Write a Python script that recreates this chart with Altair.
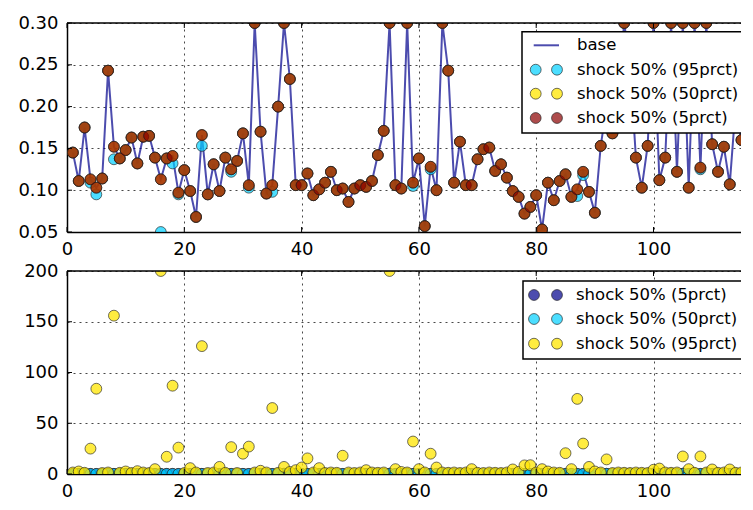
import altair as alt
import pandas as pd

# ---------------- data ----------------
x_idx = list(range(1, 116))

base = [0.145, 0.111, 0.175, 0.113, 0.103, 0.114, 0.243, 0.152, 0.138, 0.148,
        0.163, 0.132, 0.164, 0.165, 0.139, 0.113, 0.138, 0.141, 0.097, 0.124,
        0.099, 0.068, 0.166, 0.095, 0.131, 0.099, 0.139, 0.125, 0.135, 0.168,
        0.106, 0.300, 0.170, 0.096, 0.106, 0.200, 0.300, 0.233, 0.106, 0.106,
        0.120, 0.094, 0.101, 0.109, 0.122, 0.100, 0.102, 0.086, 0.102, 0.106,
        0.104, 0.111, 0.142, 0.171, 0.300, 0.106, 0.102, 0.300, 0.109, 0.138,
        0.057, 0.128, 0.100, 0.300, 0.243, 0.109, 0.158, 0.106, 0.106, 0.137,
        0.149, 0.151, 0.123, 0.131, 0.115, 0.099, 0.092, 0.072, 0.080, 0.094,
        0.053, 0.109, 0.088, 0.111, 0.119, 0.092, 0.101, 0.122, 0.098, 0.073,
        0.153, 0.200, 0.168, 0.220, 0.300, 0.250, 0.139, 0.103, 0.153, 0.300,
        0.112, 0.139, 0.300, 0.122, 0.300, 0.103, 0.300, 0.127, 0.300, 0.155,
        0.122, 0.152, 0.107, 0.200, 0.160]

top_p95 = [0.145, 0.111, 0.175, 0.109, 0.095, 0.114, 0.243, 0.137, 0.138, 0.148,
           0.163, 0.132, 0.164, 0.165, 0.139, 0.050, 0.138, 0.132, 0.095, 0.124,
           0.099, 0.068, 0.153, 0.095, 0.131, 0.099, 0.139, 0.122, 0.135, 0.168,
           0.103, 0.300, 0.170, 0.096, 0.098, 0.200, 0.300, 0.233, 0.106, 0.106,
           0.120, 0.094, 0.101, 0.109, 0.122, 0.100, 0.102, 0.086, 0.102, 0.106,
           0.104, 0.111, 0.142, 0.171, 0.300, 0.106, 0.102, 0.300, 0.105, 0.138,
           0.057, 0.125, 0.100, 0.300, 0.243, 0.109, 0.158, 0.106, 0.106, 0.137,
           0.149, 0.151, 0.123, 0.131, 0.115, 0.099, 0.092, 0.072, 0.080, 0.094,
           0.053, 0.109, 0.088, 0.111, 0.119, 0.092, 0.093, 0.118, 0.098, 0.073,
           0.153, 0.200, 0.168, 0.220, 0.300, 0.250, 0.139, 0.103, 0.153, 0.300,
           0.112, 0.139, 0.300, 0.122, 0.300, 0.103, 0.300, 0.125, 0.300, 0.155,
           0.122, 0.152, 0.107, 0.200, 0.160]

top_p50 = list(base)
top_p5 = list(base)

bot_p5 = list(base)
bot_p50 = list(top_p95)
bot_p95 = [1.5, 2.5, 1.2, 25.0, 84.0, 1.0, 1.5, 156.0, 1.2, 2.5,
           1.0, 2.8, 1.5, 1.0, 4.8, 200.0, 17.0, 87.0, 26.0, 1.0,
           5.8, 1.5, 126.0, 1.0, 1.5, 7.0, 1.2, 26.5, 1.0, 20.0,
           27.0, 1.5, 3.2, 1.5, 65.0, 1.2, 7.0, 2.0, 3.8, 6.4,
           15.4, 1.5, 5.8, 1.0, 1.5, 1.2, 18.0, 1.5, 1.0, 1.5,
           3.8, 1.5, 1.2, 1.5, 200.0, 4.8, 2.0, 1.5, 32.0, 4.8,
           1.5, 20.0, 6.4, 1.5, 1.2, 1.5, 1.0, 1.5, 4.8, 1.2,
           1.0, 1.5, 1.2, 1.0, 1.5, 4.5, 2.0, 8.5, 8.7, 1.5,
           4.8, 2.5, 1.5, 1.2, 20.5, 4.8, 74.0, 30.0, 7.0, 2.5,
           1.5, 14.4, 1.0, 1.5, 1.2, 1.0, 1.5, 1.2, 1.0, 4.2,
           5.4, 1.5, 1.2, 1.5, 17.3, 4.8, 1.2, 17.3, 1.5, 4.5,
           1.2, 1.5, 4.5, 1.2, 1.5]

x_ticks = [0, 20, 40, 60, 80, 100]
top_y_ticks = [0.05, 0.10, 0.15, 0.20, 0.25, 0.30]
bot_y_ticks = [0, 50, 100, 150, 200]

top_labels = ["base", "shock 50% (95prct)", "shock 50% (50prct)", "shock 50% (5prct)"]
bot_labels = ["shock 50% (5prct)", "shock 50% (50prct)", "shock 50% (95prct)"]

# ---------------- style ----------------
W = 677
X_MAX = 115.43
H_TOP = 209
H_BOT = 203
FONT = "DejaVu Sans"
LINE_C = "#00008b"
CYAN = "#00d0ff"
YELLOW = "#ffe600"
BROWN = "#8b0000"
DBLUE = "#00008b"

top_df = pd.DataFrame({"x": x_idx, "base": base, "p95": top_p95, "p50": top_p50, "p5": top_p5})
bot_df = pd.DataFrame({"x": x_idx, "p5": bot_p5, "p50": bot_p50, "p95": bot_p95})
one = pd.DataFrame({"d": [0]})

xscale = alt.Scale(domain=[0, X_MAX], nice=False, zero=False)
xaxis = alt.Axis(values=x_ticks, format="d", title=None, grid=True, labelFlush=False)


def panel(df, yscale, yaxis, y_ticks, layers_spec, H, legend_spec):
    layers = []
    for field, kind, color, op in layers_spec:
        if kind == "line":
            m = alt.Chart(df).mark_line(clip=True, color=color, strokeWidth=2, opacity=0.7)
        else:
            m = alt.Chart(df).mark_circle(clip=True, size=118, fill=color, fillOpacity=op,
                                          stroke="#202020", strokeWidth=0.8, strokeOpacity=0.8)
        layers.append(m.encode(
            x=alt.X("x:Q", scale=xscale, axis=xaxis),
            y=alt.Y(f"{field}:Q", scale=yscale, axis=yaxis),
        ))
    # top frame line
    layers.append(alt.Chart(one).mark_rule(color="black", strokeWidth=1.5).encode(
        x=alt.value(0), x2=alt.value(W), y=alt.value(0)))
    # inward ticks
    xt = pd.DataFrame({"t": x_ticks})
    layers.append(alt.Chart(xt).mark_rule(color="black", strokeWidth=1).encode(
        x=alt.X("t:Q", scale=xscale, axis=xaxis), y=alt.value(H), y2=alt.value(H - 5)))
    layers.append(alt.Chart(xt).mark_rule(color="black", strokeWidth=1).encode(
        x=alt.X("t:Q", scale=xscale, axis=xaxis), y=alt.value(0), y2=alt.value(5)))
    yt = pd.DataFrame({"t": y_ticks})
    layers.append(alt.Chart(yt).mark_rule(color="black", strokeWidth=1).encode(
        y=alt.Y("t:Q", scale=yscale, axis=yaxis), x=alt.value(0), x2=alt.value(5)))
    # legend
    bx0, bx1, by0, by1, rows, mx1, mx2, tx = legend_spec["box"]
    layers.append(alt.Chart(one).mark_rect(fill="white", stroke="black", strokeWidth=1.5).encode(
        x=alt.value(bx0), x2=alt.value(bx1), y=alt.value(by0), y2=alt.value(by1)))
    for (label, kind, color, op), ry in zip(legend_spec["entries"], rows):
        if kind == "line":
            layers.append(alt.Chart(one).mark_rule(color=color, strokeWidth=2, opacity=0.7).encode(
                x=alt.value(mx1 - 2), x2=alt.value(mx2 + 2), y=alt.value(ry)))
        else:
            for mx in (mx1, mx2):
                layers.append(alt.Chart(one).mark_circle(size=118, fill=color, fillOpacity=op,
                                                         stroke="#202020", strokeWidth=0.8,
                                                         strokeOpacity=0.8).encode(
                    x=alt.value(mx), y=alt.value(ry)))
        layers.append(alt.Chart(pd.DataFrame({"label": [label]})).mark_text(
            align="left", baseline="middle", font=FONT, fontSize=16.5, color="black").encode(
            x=alt.value(tx), y=alt.value(ry), text="label:N"))
    return alt.layer(*layers).properties(width=W, height=H)


top_yscale = alt.Scale(domain=[0.05, 0.30], nice=False, zero=False)
top_yaxis = alt.Axis(values=top_y_ticks, format=".2f", title=None, grid=True)
bot_yscale = alt.Scale(domain=[0, 200], nice=False, zero=False)
bot_yaxis = alt.Axis(values=bot_y_ticks, format="d", title=None, grid=True)

top = panel(
    top_df, top_yscale, top_yaxis, top_y_ticks,
    [("base", "line", LINE_C, 1), ("p95", "pt", CYAN, 0.7), ("p50", "pt", YELLOW, 0.75), ("p5", "pt", BROWN, 0.7)],
    H_TOP,
    {"box": (455, 676, 8.7, 110, [22.3, 46.7, 70.7, 95], 468.7, 490, 510),
     "entries": [(top_labels[0], "line", LINE_C, 1), (top_labels[1], "pt", CYAN, 0.7),
                 (top_labels[2], "pt", YELLOW, 0.75), (top_labels[3], "pt", BROWN, 0.7)]},
)

bot = panel(
    bot_df, bot_yscale, bot_yaxis, bot_y_ticks,
    [("p5", "pt", DBLUE, 0.7), ("p50", "pt", CYAN, 0.7), ("p95", "pt", YELLOW, 0.75)],
    H_BOT,
    {"box": (456, 676, 10, 88, [24, 48, 72.7], 467, 490, 509),
     "entries": [(bot_labels[0], "pt", DBLUE, 0.7), (bot_labels[1], "pt", CYAN, 0.7),
                 (bot_labels[2], "pt", YELLOW, 0.75)]},
)

chart = alt.vconcat(top, bot, spacing=4).properties(
    padding={"left": 7, "top": 6, "right": -4, "bottom": 0}
).configure_view(stroke=None).configure_axis(
    domainColor="black", domainWidth=1.5, ticks=False, labelPadding=8,
    labelFont=FONT, labelFontSize=18, labelColor="black",
    gridColor="black", gridDash=[2, 4], gridWidth=0.8, gridOpacity=0.9,
).configure_axisY(minExtent=52, maxExtent=52, labelPadding=9)

chart.save("out.html", embed_options={"renderer": "svg", "actions": False})
